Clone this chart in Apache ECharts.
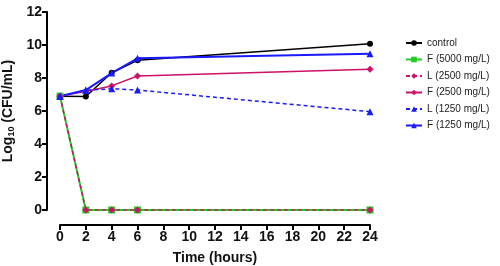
<!DOCTYPE html>
<html>
<head>
<meta charset="utf-8">
<script src="https://cdn.jsdelivr.net/npm/echarts@6/dist/echarts.min.js"></script>
<style>
  html, body { margin: 0; padding: 0; background: #fff; }
  #chart { width: 500px; height: 266px; }
</style>
</head>
<body>
<div id="chart"></div>
<script>
// time points (hours)
var hours = [0, 2, 4, 6, 24];

// log10 CFU/mL for each group
var control = [6.9, 6.88, 8.32, 9.07, 10.07];
var f5000 = [6.9, 0, 0, 0, 0];
var l2500 = [6.9, 0, 0, 0, 0];
var f2500 = [6.9, 7.2, 7.52, 8.12, 8.53];
var l1250 = [6.9, 7.25, 7.35, 7.27, 5.96];
var f1250 = [6.9, 7.27, 8.3, 9.19, 9.47];

function pairs(vals) {
    var out = [];
    for (var i = 0; i < hours.length; i++) {
        out.push([hours[i], vals[i]]);
    }
    return out;
}

var myChart = echarts.init(document.getElementById('chart'));

var axisFont = {
    fontFamily: 'Arial, Liberation Sans, sans-serif',
    fontWeight: 'bold',
    fontSize: 14,
    color: '#111'
};

var option = {
    animation: false,
    grid: {
        left: 60,
        right: 130,
        top: 12,
        bottom: 56,
        outerBoundsMode: 'none'
    },
    legend: {
        orient: 'vertical',
        left: 400,
        top: 33,
        itemWidth: 16,
        itemHeight: 7,
        itemGap: 6.5,
        textStyle: {
            fontFamily: 'Arial, Liberation Sans, sans-serif',
            fontSize: 10,
            color: '#222'
        },
        data: ['control', 'F (5000 mg/L)', 'L (2500 mg/L)', 'F (2500 mg/L)', 'L (1250 mg/L)', 'F (1250 mg/L)']
    },
    xAxis: {
        type: 'value',
        min: 0,
        max: 24,
        interval: 2,
        offset: 15,
        name: 'Time (hours)',
        nameLocation: 'middle',
        nameGap: 26,
        nameTextStyle: axisFont,
        axisLine: { onZero: false, lineStyle: { color: '#000', width: 2 } },
        axisTick: { length: 5, lineStyle: { color: '#000', width: 2 } },
        axisLabel: Object.assign({ margin: 5 }, axisFont),
        splitLine: { show: false }
    },
    yAxis: {
        type: 'value',
        min: 0,
        max: 12,
        interval: 2,
        offset: 13,
        name: '{a|Log}{s|10}{a| (CFU/mL)}',
        nameLocation: 'middle',
        nameGap: 21,
        nameRotate: 90,
        nameTextStyle: {
            rich: {
                a: axisFont,
                s: {
                    fontFamily: 'Arial, Liberation Sans, sans-serif',
                    fontWeight: 'bold',
                    fontSize: 9,
                    color: '#111',
                    padding: [6, 0, 0, 0]
                }
            }
        },
        axisLine: { show: true, onZero: false, lineStyle: { color: '#000', width: 2 } },
        axisTick: { show: true, length: 5, lineStyle: { color: '#000', width: 2 } },
        axisLabel: Object.assign({ margin: 5 }, axisFont),
        splitLine: { show: false }
    },
    series: [
        {
            name: 'control',
            type: 'line',
            symbol: 'circle',
            symbolSize: 6,
            lineStyle: { color: '#000', width: 1.5 },
            itemStyle: { color: '#000' },
            data: pairs(control)
        },
        {
            name: 'F (5000 mg/L)',
            type: 'line',
            symbol: 'rect',
            symbolSize: 7,
            lineStyle: { color: '#22cc22', width: 2 },
            itemStyle: { color: '#22cc22' },
            data: pairs(f5000)
        },
        {
            name: 'L (2500 mg/L)',
            type: 'line',
            symbol: 'diamond',
            symbolSize: 7,
            lineStyle: { color: '#cc1166', width: 1.5, type: [4, 3] },
            itemStyle: { color: '#cc1166' },
            data: pairs(l2500)
        },
        {
            name: 'F (2500 mg/L)',
            type: 'line',
            symbol: 'diamond',
            symbolSize: 7,
            lineStyle: { color: '#cc1166', width: 1.5 },
            itemStyle: { color: '#cc1166' },
            data: pairs(f2500)
        },
        {
            name: 'L (1250 mg/L)',
            type: 'line',
            symbol: 'triangle',
            symbolSize: 7,
            lineStyle: { color: '#1a1aff', width: 1.5, type: [4, 3] },
            itemStyle: { color: '#1a1aff' },
            data: pairs(l1250)
        },
        {
            name: 'F (1250 mg/L)',
            type: 'line',
            symbol: 'triangle',
            symbolSize: 7,
            lineStyle: { color: '#1a1aff', width: 2 },
            itemStyle: { color: '#1a1aff' },
            data: pairs(f1250)
        }
    ]
};
myChart.setOption(option);
</script>
</body>
</html>
